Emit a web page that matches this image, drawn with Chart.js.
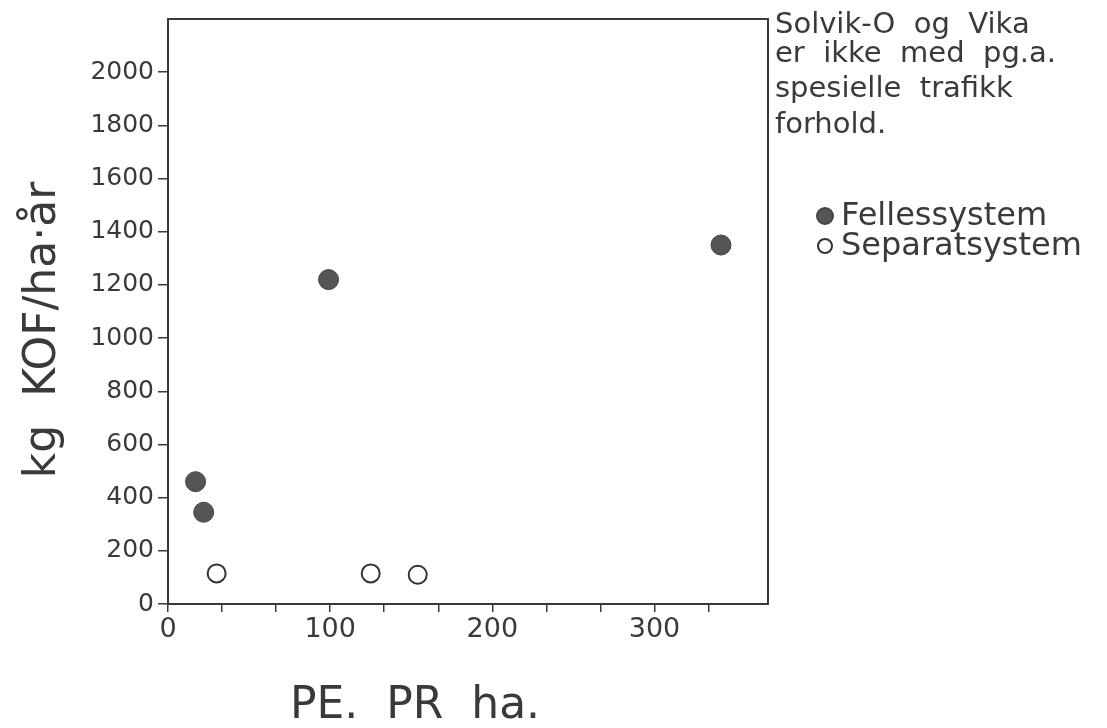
<!DOCTYPE html>
<html>
<head>
<meta charset="utf-8">
<script src="https://cdn.jsdelivr.net/npm/chart.js@4"></script>
<style>
  html, body { margin: 0; padding: 0; background: #fff; }
  #wrap { width: 1107px; height: 728px; }
</style>
</head>
<body>
<div id="wrap"><canvas id="chart" width="1107" height="728"></canvas></div>
<script>
// data
const fellesX = [17, 22, 99, 341];
const fellesY = [460, 345, 1220, 1350];
const separatX = [30, 125, 154];
const separatY = [115, 115, 110];

const xTicks = [0, 33.33, 66.67, 100, 133.33, 166.67, 200, 233.33, 266.67, 300, 333.33];
const xLabels = [0, 100, 200, 300];
const yTicks = [0, 200, 400, 600, 800, 1000, 1200, 1400, 1600, 1800, 2000];

const noteLines = ['Solvik-O  og  Vika', 'er  ikke  med  pg.a.', 'spesielle  trafikk', 'forhold.'];
const seriesNames = ['Fellessystem', 'Separatsystem'];
const xTitle = 'PE.  PR  ha.';
const yTitle = 'kg  KOF/ha·år';

const ink = '#3a3a3a';
const font = '"DejaVu Sans", sans-serif';

const toPoints = (xs, ys) => xs.map((x, i) => ({ x: x, y: ys[i] }));

const decor = {
  id: 'decor',
  afterDraw(chart) {
    const ctx = chart.ctx;
    const a = chart.chartArea;
    ctx.save();
    // frame
    ctx.strokeStyle = ink;
    ctx.lineWidth = 2;
    ctx.strokeRect(a.left, a.top, a.right - a.left, a.bottom - a.top);

    ctx.fillStyle = ink;
    // axis titles
    ctx.font = '44px ' + font;
    ctx.textAlign = 'center';
    ctx.textBaseline = 'alphabetic';
    ctx.fillText(xTitle, 415, 718);
    ctx.save();
    ctx.translate(55, 330);
    ctx.rotate(-Math.PI / 2);
    ctx.fillText(yTitle, 0, 0);
    ctx.restore();

    // note at top right
    ctx.font = '29px ' + font;
    ctx.textAlign = 'left';
    const baselines = [33, 62, 97, 133];
    noteLines.forEach((t, i) => ctx.fillText(t, 775, baselines[i]));

    // legend
    ctx.font = '32px ' + font;
    const ds = chart.data.datasets;
    const rows = [216, 246];
    ds.forEach((d, i) => {
      ctx.beginPath();
      ctx.arc(825, rows[i], i === 0 ? 8 : 7, 0, Math.PI * 2);
      ctx.fillStyle = d.backgroundColor;
      ctx.fill();
      ctx.lineWidth = 2;
      ctx.strokeStyle = d.borderColor;
      ctx.stroke();
      ctx.fillStyle = ink;
      ctx.textBaseline = 'middle';
      ctx.fillText(seriesNames[i], 841, rows[i] + 1);
    });
    ctx.restore();
  }
};

new Chart(document.getElementById('chart'), {
  type: 'scatter',
  data: {
    datasets: [
      {
        label: seriesNames[0],
        data: toPoints(fellesX, fellesY),
        pointRadius: 10,
        pointHoverRadius: 10,
        backgroundColor: '#555555',
        borderColor: '#444444',
        borderWidth: 1
      },
      {
        label: seriesNames[1],
        data: toPoints(separatX, separatY),
        pointRadius: 9,
        pointHoverRadius: 9,
        backgroundColor: '#ffffff',
        borderColor: '#333333',
        borderWidth: 2
      }
    ]
  },
  options: {
    responsive: false,
    animation: false,
    layout: { padding: { top: 13, right: 339, bottom: 0, left: 0 } },
    plugins: {
      legend: { display: false },
      tooltip: { enabled: false }
    },
    scales: {
      x: {
        type: 'linear',
        min: 0,
        max: 370,
        afterBuildTicks: s => { s.ticks = xTicks.map(v => ({ value: v })); },
        afterFit: s => { s.height = 124; },
        grid: { drawOnChartArea: false, tickLength: 8, color: ink, lineWidth: 1.5 },
        border: { display: false },
        ticks: {
          autoSkip: false,
          maxRotation: 0,
          padding: 2,
          color: ink,
          font: { family: font, size: 27 },
          callback: v => xLabels.includes(Math.round(v)) && Math.abs(v - Math.round(v)) < 0.01 ? String(Math.round(v)) : ''
        }
      },
      y: {
        type: 'linear',
        min: 0,
        max: 2200,
        afterBuildTicks: s => { s.ticks = yTicks.map(v => ({ value: v })); },
        afterFit: s => { s.width = 168; },
        grid: { drawOnChartArea: false, tickLength: 10, color: ink, lineWidth: 1.5 },
        border: { display: false },
        ticks: {
          padding: 4,
          color: ink,
          font: { family: font, size: 25 },
          callback: v => String(v)
        }
      }
    }
  },
  plugins: [decor]
});
</script>
</body>
</html>
